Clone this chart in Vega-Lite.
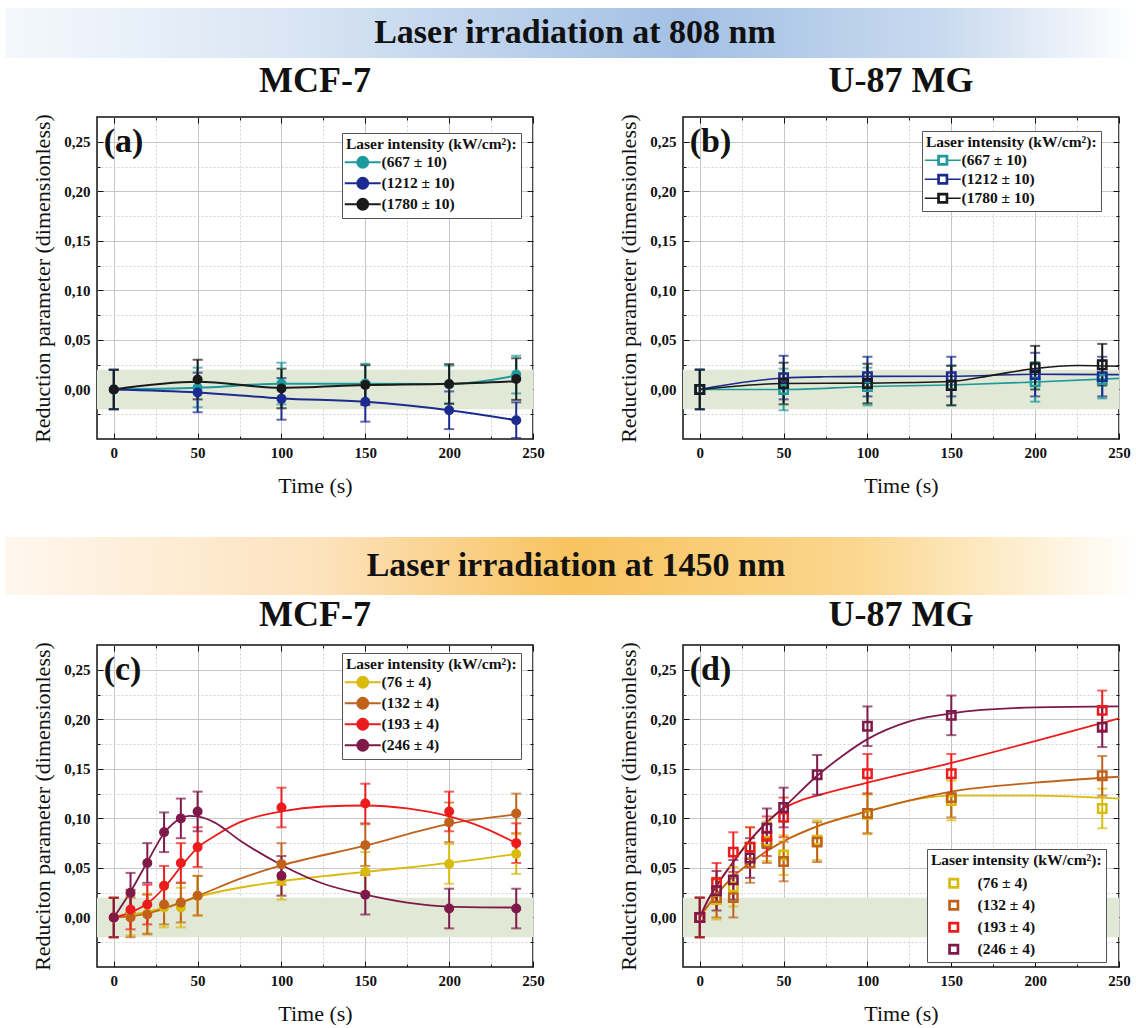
{
"$schema":"https://vega.github.io/schema/vega-lite/v6.json",
"background":"white",
"padding":{"left":5,"top":8,"right":0,"bottom":0},
"config":{
 "font":"Liberation Serif",
 "view":{"stroke":"#111","strokeWidth":1.5},
 "axis":{"labelFont":"Liberation Serif","labelFontSize":15,"labelFontWeight":"bold","labelColor":"#111","titleFont":"Liberation Serif","titleFontSize":22,"titleFontWeight":"normal","titleColor":"#111","tickColor":"#111","tickWidth":1},
 "title":{"font":"Liberation Serif","fontSize":36,"fontWeight":"bold","color":"#111","frame":"group"},
 "legend":{"titleFont":"Liberation Serif","titleFontSize":15.5,"titleFontWeight":"bold","titleColor":"#111","labelFont":"Liberation Serif","labelFontSize":15.5,"labelFontWeight":"bold","labelColor":"#111","strokeColor":"#555","fillColor":"#ffffff","padding":4,"rowPadding":1,"titlePadding":2,"symbolStrokeWidth":2}
},
"datasets":{
 "a_pts":[
  {"s":"(667 ± 10)","t":0,"y":0,"e":0.02},{"s":"(667 ± 10)","t":50,"y":0.002,"e":0.02},{"s":"(667 ± 10)","t":100,"y":0.006,"e":0.021},{"s":"(667 ± 10)","t":150,"y":0.006,"e":0.02},{"s":"(667 ± 10)","t":200,"y":0.005,"e":0.019},{"s":"(667 ± 10)","t":240,"y":0.015,"e":0.019},
  {"s":"(1212 ± 10)","t":0,"y":0,"e":0.02},{"s":"(1212 ± 10)","t":50,"y":-0.003,"e":0.02},{"s":"(1212 ± 10)","t":100,"y":-0.0095,"e":0.021},{"s":"(1212 ± 10)","t":150,"y":-0.0125,"e":0.02},{"s":"(1212 ± 10)","t":200,"y":-0.021,"e":0.019},{"s":"(1212 ± 10)","t":240,"y":-0.031,"e":0.018},
  {"s":"(1780 ± 10)","t":0,"y":0,"e":0.02},{"s":"(1780 ± 10)","t":50,"y":0.010,"e":0.02},{"s":"(1780 ± 10)","t":100,"y":0.001,"e":0.02},{"s":"(1780 ± 10)","t":150,"y":0.0045,"e":0.02},{"s":"(1780 ± 10)","t":200,"y":0.0055,"e":0.02},{"s":"(1780 ± 10)","t":240,"y":0.0105,"e":0.021}
 ],
 "a_fit":[
  {"s":"(667 ± 10)","t":0,"y":0},{"s":"(667 ± 10)","t":50,"y":0.0017},{"s":"(667 ± 10)","t":100,"y":0.0057},{"s":"(667 ± 10)","t":150,"y":0.0058},{"s":"(667 ± 10)","t":200,"y":0.0056},{"s":"(667 ± 10)","t":240,"y":0.014},
  {"s":"(1212 ± 10)","t":0,"y":0},{"s":"(1212 ± 10)","t":50,"y":-0.003},{"s":"(1212 ± 10)","t":100,"y":-0.009},{"s":"(1212 ± 10)","t":150,"y":-0.0125},{"s":"(1212 ± 10)","t":200,"y":-0.021},{"s":"(1212 ± 10)","t":240,"y":-0.031},
  {"s":"(1780 ± 10)","t":0,"y":0},{"s":"(1780 ± 10)","t":50,"y":0.0077},{"s":"(1780 ± 10)","t":100,"y":0.0017},{"s":"(1780 ± 10)","t":150,"y":0.0044},{"s":"(1780 ± 10)","t":200,"y":0.0057},{"s":"(1780 ± 10)","t":240,"y":0.0084}
 ],
 "b_pts":[
  {"s":"(667 ± 10)","t":0,"y":0,"e":0.02},{"s":"(667 ± 10)","t":50,"y":0.0,"e":0.021},{"s":"(667 ± 10)","t":100,"y":0.003,"e":0.019},{"s":"(667 ± 10)","t":150,"y":0.004,"e":0.02},{"s":"(667 ± 10)","t":200,"y":0.0077,"e":0.02},{"s":"(667 ± 10)","t":240,"y":0.010,"e":0.019},
  {"s":"(1212 ± 10)","t":0,"y":0,"e":0.02},{"s":"(1212 ± 10)","t":50,"y":0.012,"e":0.022},{"s":"(1212 ± 10)","t":100,"y":0.013,"e":0.02},{"s":"(1212 ± 10)","t":150,"y":0.013,"e":0.02},{"s":"(1212 ± 10)","t":200,"y":0.015,"e":0.022},{"s":"(1212 ± 10)","t":240,"y":0.013,"e":0.02},
  {"s":"(1780 ± 10)","t":0,"y":0,"e":0.02},{"s":"(1780 ± 10)","t":50,"y":0.006,"e":0.021},{"s":"(1780 ± 10)","t":100,"y":0.006,"e":0.02},{"s":"(1780 ± 10)","t":150,"y":0.004,"e":0.02},{"s":"(1780 ± 10)","t":200,"y":0.022,"e":0.022},{"s":"(1780 ± 10)","t":240,"y":0.025,"e":0.021}
 ],
 "b_fit":[
  {"s":"(667 ± 10)","t":0,"y":0},{"s":"(667 ± 10)","t":50,"y":0.0},{"s":"(667 ± 10)","t":100,"y":0.003},{"s":"(667 ± 10)","t":150,"y":0.0045},{"s":"(667 ± 10)","t":200,"y":0.0075},{"s":"(667 ± 10)","t":250,"y":0.0112},
  {"s":"(1212 ± 10)","t":0,"y":0},{"s":"(1212 ± 10)","t":25,"y":0.007},{"s":"(1212 ± 10)","t":50,"y":0.0115},{"s":"(1212 ± 10)","t":75,"y":0.0128},{"s":"(1212 ± 10)","t":100,"y":0.0132},{"s":"(1212 ± 10)","t":150,"y":0.0133},{"s":"(1212 ± 10)","t":200,"y":0.0153},{"s":"(1212 ± 10)","t":250,"y":0.015},
  {"s":"(1780 ± 10)","t":0,"y":0},{"s":"(1780 ± 10)","t":50,"y":0.006},{"s":"(1780 ± 10)","t":100,"y":0.0064},{"s":"(1780 ± 10)","t":150,"y":0.008},{"s":"(1780 ± 10)","t":175,"y":0.0145},{"s":"(1780 ± 10)","t":200,"y":0.0212},{"s":"(1780 ± 10)","t":225,"y":0.0242},{"s":"(1780 ± 10)","t":250,"y":0.0235}
 ],
 "c_pts":[
  {"s":"(76 ± 4)","t":0,"y":0,"e":0.02},{"s":"(76 ± 4)","t":10,"y":0.002,"e":0.02},{"s":"(76 ± 4)","t":20,"y":0.004,"e":0.02},{"s":"(76 ± 4)","t":30,"y":0.01,"e":0.02},{"s":"(76 ± 4)","t":40,"y":0.01,"e":0.02},{"s":"(76 ± 4)","t":50,"y":0.022,"e":0.02},{"s":"(76 ± 4)","t":100,"y":0.037,"e":0.019},{"s":"(76 ± 4)","t":150,"y":0.046,"e":0.02},{"s":"(76 ± 4)","t":200,"y":0.054,"e":0.02},{"s":"(76 ± 4)","t":240,"y":0.064,"e":0.02},
  {"s":"(132 ± 4)","t":0,"y":0,"e":0.02},{"s":"(132 ± 4)","t":10,"y":0.0,"e":0.02},{"s":"(132 ± 4)","t":20,"y":0.003,"e":0.02},{"s":"(132 ± 4)","t":30,"y":0.013,"e":0.02},{"s":"(132 ± 4)","t":40,"y":0.015,"e":0.02},{"s":"(132 ± 4)","t":50,"y":0.022,"e":0.02},{"s":"(132 ± 4)","t":100,"y":0.054,"e":0.021},{"s":"(132 ± 4)","t":150,"y":0.073,"e":0.021},{"s":"(132 ± 4)","t":200,"y":0.096,"e":0.02},{"s":"(132 ± 4)","t":240,"y":0.105,"e":0.02},
  {"s":"(193 ± 4)","t":0,"y":0,"e":0.02},{"s":"(193 ± 4)","t":10,"y":0.008,"e":0.02},{"s":"(193 ± 4)","t":20,"y":0.013,"e":0.02},{"s":"(193 ± 4)","t":30,"y":0.032,"e":0.02},{"s":"(193 ± 4)","t":40,"y":0.055,"e":0.02},{"s":"(193 ± 4)","t":50,"y":0.071,"e":0.02},{"s":"(193 ± 4)","t":100,"y":0.111,"e":0.02},{"s":"(193 ± 4)","t":150,"y":0.115,"e":0.02},{"s":"(193 ± 4)","t":200,"y":0.107,"e":0.02},{"s":"(193 ± 4)","t":240,"y":0.075,"e":0.02},
  {"s":"(246 ± 4)","t":0,"y":0,"e":0.02},{"s":"(246 ± 4)","t":10,"y":0.025,"e":0.02},{"s":"(246 ± 4)","t":20,"y":0.055,"e":0.02},{"s":"(246 ± 4)","t":30,"y":0.086,"e":0.02},{"s":"(246 ± 4)","t":40,"y":0.100,"e":0.02},{"s":"(246 ± 4)","t":50,"y":0.107,"e":0.02},{"s":"(246 ± 4)","t":100,"y":0.042,"e":0.02},{"s":"(246 ± 4)","t":150,"y":0.023,"e":0.02},{"s":"(246 ± 4)","t":200,"y":0.009,"e":0.02},{"s":"(246 ± 4)","t":240,"y":0.009,"e":0.02}
 ],
 "c_fit":[
  {"s":"(76 ± 4)","t":0,"y":0},{"s":"(76 ± 4)","t":10,"y":0.003},{"s":"(76 ± 4)","t":20,"y":0.006},{"s":"(76 ± 4)","t":30,"y":0.01},{"s":"(76 ± 4)","t":40,"y":0.015},{"s":"(76 ± 4)","t":50,"y":0.0206},{"s":"(76 ± 4)","t":100,"y":0.0365},{"s":"(76 ± 4)","t":150,"y":0.046},{"s":"(76 ± 4)","t":200,"y":0.055},{"s":"(76 ± 4)","t":240,"y":0.064},
  {"s":"(132 ± 4)","t":0,"y":0},{"s":"(132 ± 4)","t":10,"y":0.001},{"s":"(132 ± 4)","t":20,"y":0.004},{"s":"(132 ± 4)","t":30,"y":0.009},{"s":"(132 ± 4)","t":40,"y":0.015},{"s":"(132 ± 4)","t":50,"y":0.0216},{"s":"(132 ± 4)","t":75,"y":0.039},{"s":"(132 ± 4)","t":100,"y":0.0525},{"s":"(132 ± 4)","t":150,"y":0.0724},{"s":"(132 ± 4)","t":200,"y":0.0945},{"s":"(132 ± 4)","t":240,"y":0.104},
  {"s":"(193 ± 4)","t":0,"y":0},{"s":"(193 ± 4)","t":10,"y":0.005},{"s":"(193 ± 4)","t":20,"y":0.014},{"s":"(193 ± 4)","t":30,"y":0.03},{"s":"(193 ± 4)","t":40,"y":0.051},{"s":"(193 ± 4)","t":50,"y":0.0705},{"s":"(193 ± 4)","t":60,"y":0.082},{"s":"(193 ± 4)","t":75,"y":0.096},{"s":"(193 ± 4)","t":100,"y":0.107},{"s":"(193 ± 4)","t":125,"y":0.112},{"s":"(193 ± 4)","t":150,"y":0.113},{"s":"(193 ± 4)","t":175,"y":0.11},{"s":"(193 ± 4)","t":200,"y":0.102},{"s":"(193 ± 4)","t":220,"y":0.091},{"s":"(193 ± 4)","t":240,"y":0.075},
  {"s":"(246 ± 4)","t":0,"y":0},{"s":"(246 ± 4)","t":10,"y":0.026},{"s":"(246 ± 4)","t":20,"y":0.056},{"s":"(246 ± 4)","t":30,"y":0.085},{"s":"(246 ± 4)","t":40,"y":0.1},{"s":"(246 ± 4)","t":45,"y":0.1025},{"s":"(246 ± 4)","t":50,"y":0.102},{"s":"(246 ± 4)","t":60,"y":0.096},{"s":"(246 ± 4)","t":75,"y":0.078},{"s":"(246 ± 4)","t":100,"y":0.053},{"s":"(246 ± 4)","t":125,"y":0.034},{"s":"(246 ± 4)","t":150,"y":0.023},{"s":"(246 ± 4)","t":175,"y":0.015},{"s":"(246 ± 4)","t":200,"y":0.011},{"s":"(246 ± 4)","t":240,"y":0.01}
 ],
 "d_pts":[
  {"s":"(76 ± 4)","t":0,"y":0,"e":0.02},{"s":"(76 ± 4)","t":10,"y":0.018,"e":0.02},{"s":"(76 ± 4)","t":20,"y":0.031,"e":0.02},{"s":"(76 ± 4)","t":30,"y":0.071,"e":0.02},{"s":"(76 ± 4)","t":40,"y":0.077,"e":0.02},{"s":"(76 ± 4)","t":50,"y":0.063,"e":0.02},{"s":"(76 ± 4)","t":70,"y":0.078,"e":0.02},{"s":"(76 ± 4)","t":100,"y":0.104,"e":0.02},{"s":"(76 ± 4)","t":150,"y":0.118,"e":0.02},{"s":"(76 ± 4)","t":240,"y":0.110,"e":0.02},
  {"s":"(132 ± 4)","t":0,"y":0,"e":0.02},{"s":"(132 ± 4)","t":10,"y":0.02,"e":0.02},{"s":"(132 ± 4)","t":20,"y":0.02,"e":0.02},{"s":"(132 ± 4)","t":30,"y":0.055,"e":0.02},{"s":"(132 ± 4)","t":40,"y":0.075,"e":0.02},{"s":"(132 ± 4)","t":50,"y":0.0565,"e":0.02},{"s":"(132 ± 4)","t":70,"y":0.076,"e":0.02},{"s":"(132 ± 4)","t":100,"y":0.105,"e":0.02},{"s":"(132 ± 4)","t":150,"y":0.121,"e":0.02},{"s":"(132 ± 4)","t":240,"y":0.143,"e":0.02},
  {"s":"(193 ± 4)","t":0,"y":0,"e":0.02},{"s":"(193 ± 4)","t":10,"y":0.035,"e":0.02},{"s":"(193 ± 4)","t":20,"y":0.066,"e":0.02},{"s":"(193 ± 4)","t":30,"y":0.071,"e":0.02},{"s":"(193 ± 4)","t":40,"y":0.082,"e":0.02},{"s":"(193 ± 4)","t":50,"y":0.101,"e":0.02},{"s":"(193 ± 4)","t":100,"y":0.145,"e":0.02},{"s":"(193 ± 4)","t":150,"y":0.145,"e":0.02},{"s":"(193 ± 4)","t":240,"y":0.209,"e":0.02},
  {"s":"(246 ± 4)","t":0,"y":0,"e":0.02},{"s":"(246 ± 4)","t":10,"y":0.027,"e":0.02},{"s":"(246 ± 4)","t":20,"y":0.038,"e":0.02},{"s":"(246 ± 4)","t":30,"y":0.06,"e":0.02},{"s":"(246 ± 4)","t":40,"y":0.09,"e":0.02},{"s":"(246 ± 4)","t":50,"y":0.111,"e":0.02},{"s":"(246 ± 4)","t":70,"y":0.144,"e":0.02},{"s":"(246 ± 4)","t":100,"y":0.193,"e":0.02},{"s":"(246 ± 4)","t":150,"y":0.204,"e":0.02},{"s":"(246 ± 4)","t":240,"y":0.192,"e":0.02}
 ],
 "d_fit":[
  {"s":"(76 ± 4)","t":0,"y":0},{"s":"(76 ± 4)","t":5,"y":0.012},{"s":"(76 ± 4)","t":10,"y":0.023},{"s":"(76 ± 4)","t":20,"y":0.0415},{"s":"(76 ± 4)","t":30,"y":0.055},{"s":"(76 ± 4)","t":40,"y":0.067},{"s":"(76 ± 4)","t":50,"y":0.077},{"s":"(76 ± 4)","t":70,"y":0.092},{"s":"(76 ± 4)","t":100,"y":0.107},{"s":"(76 ± 4)","t":125,"y":0.118},{"s":"(76 ± 4)","t":150,"y":0.123},{"s":"(76 ± 4)","t":200,"y":0.123},{"s":"(76 ± 4)","t":250,"y":0.12},
  {"s":"(132 ± 4)","t":0,"y":0},{"s":"(132 ± 4)","t":5,"y":0.012},{"s":"(132 ± 4)","t":10,"y":0.023},{"s":"(132 ± 4)","t":20,"y":0.0415},{"s":"(132 ± 4)","t":30,"y":0.055},{"s":"(132 ± 4)","t":40,"y":0.067},{"s":"(132 ± 4)","t":50,"y":0.077},{"s":"(132 ± 4)","t":70,"y":0.092},{"s":"(132 ± 4)","t":100,"y":0.107},{"s":"(132 ± 4)","t":150,"y":0.127},{"s":"(132 ± 4)","t":200,"y":0.136},{"s":"(132 ± 4)","t":250,"y":0.142},
  {"s":"(193 ± 4)","t":0,"y":0},{"s":"(193 ± 4)","t":5,"y":0.018},{"s":"(193 ± 4)","t":10,"y":0.032},{"s":"(193 ± 4)","t":20,"y":0.056},{"s":"(193 ± 4)","t":30,"y":0.078},{"s":"(193 ± 4)","t":40,"y":0.096},{"s":"(193 ± 4)","t":50,"y":0.11},{"s":"(193 ± 4)","t":60,"y":0.118},{"s":"(193 ± 4)","t":70,"y":0.123},{"s":"(193 ± 4)","t":100,"y":0.136},{"s":"(193 ± 4)","t":150,"y":0.156},{"s":"(193 ± 4)","t":200,"y":0.178},{"s":"(193 ± 4)","t":250,"y":0.201},
  {"s":"(246 ± 4)","t":0,"y":0},{"s":"(246 ± 4)","t":5,"y":0.018},{"s":"(246 ± 4)","t":10,"y":0.032},{"s":"(246 ± 4)","t":20,"y":0.056},{"s":"(246 ± 4)","t":30,"y":0.078},{"s":"(246 ± 4)","t":40,"y":0.096},{"s":"(246 ± 4)","t":50,"y":0.111},{"s":"(246 ± 4)","t":70,"y":0.143},{"s":"(246 ± 4)","t":85,"y":0.163},{"s":"(246 ± 4)","t":100,"y":0.18},{"s":"(246 ± 4)","t":125,"y":0.198},{"s":"(246 ± 4)","t":150,"y":0.206},{"s":"(246 ± 4)","t":200,"y":0.212},{"s":"(246 ± 4)","t":250,"y":0.213}
 ]
},
"resolve":{"scale":{"color":"independent"}},
"spacing":40,
"vconcat":[
 {"spacing":3,"resolve":{"scale":{"color":"independent"}},"vconcat":[
  {"width":1039,"height":50,"view":{"stroke":null},"data":{"values":[{"label":"Laser irradiation at 808 nm","x0":-92,"x1":1039,"xm":478}]},
   "layer":[
    {"mark":{"type":"rect","color":{"gradient":"linear","x1":0,"x2":1,"y1":0,"y2":0,"stops":[{"offset":0,"color":"#f4f8fc"},{"offset":0.25,"color":"#dae6f4"},{"offset":0.6,"color":"#a3c0e4"},{"offset":0.83,"color":"#c9daef"},{"offset":1,"color":"#ffffff"}]}},
     "encoding":{"x":{"field":"x0","type":"quantitative","scale":{"domain":[0,1039],"nice":false,"zero":false},"axis":null},"x2":{"field":"x1"}}},
    {"mark":{"type":"text","font":"Liberation Serif","fontSize":34,"fontWeight":"bold","color":"#111"},
     "encoding":{"x":{"field":"xm","type":"quantitative","scale":{"domain":[0,1039],"nice":false,"zero":false},"axis":null},"text":{"field":"label"}}}
   ]},
  {"spacing":72,"resolve":{"scale":{"color":"independent"}},"hconcat":[
   {"width":436,"height":322,"title":{"text":"MCF-7","offset":14},
    "resolve":{"axis":{"x":"independent","y":"independent"}},
    "layer":[
     {"data":{"values":[{"lo":-0.02,"hi":0.02}]},"mark":{"type":"rect","color":"#e1e8d5"},
      "encoding":{"y":{"field":"lo","type":"quantitative","scale":{"domain":[-0.05,0.275],"nice":false,"zero":false},"axis":{"orient":"left","values":[0,0.05,0.1,0.15,0.2,0.25],"tickSize":-6,"labelPadding":13,"labelExpr":"replace(format(datum.value,'.2f'),'.',',')","grid":true,"gridColor":"#c6c6c6","title":"Reduction parameter (dimensionless)","titlePadding":9,"domain":false}},"y2":{"field":"hi"}}},
     {"data":{"name":"a_fit"},"mark":{"type":"line","interpolate":"monotone","strokeWidth":2},
      "encoding":{"x":{"field":"t","type":"quantitative","scale":{"domain":[-10,250],"nice":false,"zero":false},"axis":{"orient":"bottom","values":[0,50,100,150,200,250],"tickSize":-6,"labelPadding":12,"labelFlush":false,"grid":true,"gridColor":"#c6c6c6","title":"Time (s)","titlePadding":15,"domain":false}},
       "y":{"field":"y","type":"quantitative","scale":{"domain":[-0.05,0.275],"nice":false,"zero":false},"axis":{"orient":"left","values":[-0.025,0.025,0.075,0.125,0.175,0.225],"tickSize":-3,"labels":false,"grid":true,"gridDash":[2,2],"gridColor":"#d4d4d4","title":null,"domain":false}},
       "color":{"field":"s","type":"nominal","scale":{"domain":["(667 ± 10)","(1212 ± 10)","(1780 ± 10)"],"range":["#1d9a9b","#1b2b8f","#1a1a1a"]},
        "legend":{"orient":"none","legendX":245,"legendY":16,"title":"Laser intensity (kW/cm²):","symbolType":"M-3,0H3M-0.9,0A0.9,0.9,0,1,1,0.9,0A0.9,0.9,0,1,1,-0.9,0M-0.6,0A0.6,0.6,0,1,1,0.6,0A0.6,0.6,0,1,1,-0.6,0M-0.3,0A0.3,0.3,0,1,1,0.3,0A0.3,0.3,0,1,1,-0.3,0","symbolSize":144,"symbolOffset":9,"labelOffset":11}}}},
     {"data":{"name":"a_pts"},"mark":{"type":"errorbar","ticks":{"size":10,"thickness":2},"thickness":2},
      "encoding":{"x":{"field":"t","type":"quantitative","scale":{"domain":[-10,250],"nice":false,"zero":false},"axis":{"orient":"bottom","values":[25,75,125,175,225],"tickSize":-3,"labels":false,"grid":true,"gridDash":[2,2],"gridColor":"#d4d4d4","title":null,"domain":false}},
       "y":{"field":"y","type":"quantitative","scale":{"domain":[-0.05,0.275],"nice":false,"zero":false},"axis":{"orient":"right","values":[0,0.05,0.1,0.15,0.2,0.25],"tickSize":-6,"labels":false,"grid":false,"title":null,"domain":false}},
       "yError":{"field":"e"},
       "color":{"field":"s","type":"nominal","legend":null}}},
     {"data":{"name":"a_pts"},"mark":{"type":"point","shape":"circle","filled":true,"size":100,"opacity":1},
      "encoding":{"x":{"field":"t","type":"quantitative","scale":{"domain":[-10,250],"nice":false,"zero":false},"axis":{"orient":"top","values":[0,50,100,150,200,250],"tickSize":-6,"labels":false,"grid":false,"title":null,"domain":false}},
       "y":{"field":"y","type":"quantitative","scale":{"domain":[-0.05,0.275],"nice":false,"zero":false},"axis":{"orient":"right","values":[-0.025,0.025,0.075,0.125,0.175,0.225],"tickSize":-3,"labels":false,"grid":false,"title":null,"domain":false}},
       "color":{"field":"s","type":"nominal","legend":null}}},
     {"data":{"values":[{"lab":"(a)","t":-6,"v":0.25}]},"mark":{"type":"text","align":"left","baseline":"middle","font":"Liberation Serif","fontSize":34,"fontWeight":"bold","color":"#111"},
      "encoding":{"x":{"field":"t","type":"quantitative","scale":{"domain":[-10,250],"nice":false,"zero":false},"axis":{"orient":"top","values":[25,75,125,175,225],"tickSize":-3,"labels":false,"grid":false,"title":null,"domain":false}},
       "y":{"field":"v","type":"quantitative","scale":{"domain":[-0.05,0.275],"nice":false,"zero":false},"axis":null},
       "text":{"field":"lab"}}}
    ]},
   {"width":436,"height":322,"title":{"text":"U-87 MG","offset":14},
    "resolve":{"axis":{"x":"independent","y":"independent"}},
    "layer":[
     {"data":{"values":[{"lo":-0.02,"hi":0.02}]},"mark":{"type":"rect","color":"#e1e8d5"},
      "encoding":{"y":{"field":"lo","type":"quantitative","scale":{"domain":[-0.05,0.275],"nice":false,"zero":false},"axis":{"orient":"left","values":[0,0.05,0.1,0.15,0.2,0.25],"tickSize":-6,"labelPadding":13,"labelExpr":"replace(format(datum.value,'.2f'),'.',',')","grid":true,"gridColor":"#c6c6c6","title":"Reduction parameter (dimensionless)","titlePadding":9,"domain":false}},"y2":{"field":"hi"}}},
     {"data":{"name":"b_fit"},"mark":{"type":"line","interpolate":"monotone","strokeWidth":1.6},
      "encoding":{"x":{"field":"t","type":"quantitative","scale":{"domain":[-10,250],"nice":false,"zero":false},"axis":{"orient":"bottom","values":[0,50,100,150,200,250],"tickSize":-6,"labelPadding":12,"labelFlush":false,"grid":true,"gridColor":"#c6c6c6","title":"Time (s)","titlePadding":15,"domain":false}},
       "y":{"field":"y","type":"quantitative","scale":{"domain":[-0.05,0.275],"nice":false,"zero":false},"axis":{"orient":"left","values":[-0.025,0.025,0.075,0.125,0.175,0.225],"tickSize":-3,"labels":false,"grid":true,"gridDash":[2,2],"gridColor":"#d4d4d4","title":null,"domain":false}},
       "color":{"field":"s","type":"nominal","scale":{"domain":["(667 ± 10)","(1212 ± 10)","(1780 ± 10)"],"range":["#1d9a9b","#1b2b8f","#1a1a1a"]},
        "legend":{"orient":"none","legendX":239,"legendY":14,"title":"Laser intensity (kW/cm²):","symbolType":"M-3,0H-0.8M0.8,0H3M-0.8,-0.8H0.8V0.8H-0.8ZM-0.6,-0.6V0.6H0.6V-0.6Z","symbolSize":144,"symbolStrokeWidth":1.5,"symbolOffset":9,"labelOffset":11}}}},
     {"data":{"name":"b_pts"},"mark":{"type":"errorbar","ticks":{"size":10,"thickness":2},"thickness":2},
      "encoding":{"x":{"field":"t","type":"quantitative","scale":{"domain":[-10,250],"nice":false,"zero":false},"axis":{"orient":"bottom","values":[25,75,125,175,225],"tickSize":-3,"labels":false,"grid":true,"gridDash":[2,2],"gridColor":"#d4d4d4","title":null,"domain":false}},
       "y":{"field":"y","type":"quantitative","scale":{"domain":[-0.05,0.275],"nice":false,"zero":false},"axis":{"orient":"right","values":[0,0.05,0.1,0.15,0.2,0.25],"tickSize":-6,"labels":false,"grid":false,"title":null,"domain":false}},
       "yError":{"field":"e"},
       "color":{"field":"s","type":"nominal","legend":null}}},
     {"data":{"name":"b_pts"},"mark":{"type":"point","shape":"square","filled":false,"size":70,"strokeWidth":2.5,"opacity":1},
      "encoding":{"x":{"field":"t","type":"quantitative","scale":{"domain":[-10,250],"nice":false,"zero":false},"axis":{"orient":"top","values":[0,50,100,150,200,250],"tickSize":-6,"labels":false,"grid":false,"title":null,"domain":false}},
       "y":{"field":"y","type":"quantitative","scale":{"domain":[-0.05,0.275],"nice":false,"zero":false},"axis":{"orient":"right","values":[-0.025,0.025,0.075,0.125,0.175,0.225],"tickSize":-3,"labels":false,"grid":false,"title":null,"domain":false}},
       "color":{"field":"s","type":"nominal","legend":null}}},
     {"data":{"values":[{"lab":"(b)","t":-6,"v":0.25}]},"mark":{"type":"text","align":"left","baseline":"middle","font":"Liberation Serif","fontSize":34,"fontWeight":"bold","color":"#111"},
      "encoding":{"x":{"field":"t","type":"quantitative","scale":{"domain":[-10,250],"nice":false,"zero":false},"axis":{"orient":"top","values":[25,75,125,175,225],"tickSize":-3,"labels":false,"grid":false,"title":null,"domain":false}},
       "y":{"field":"v","type":"quantitative","scale":{"domain":[-0.05,0.275],"nice":false,"zero":false},"axis":null},
       "text":{"field":"lab"}}}
    ]}
  ]}
 ]},
 {"spacing":0,"resolve":{"scale":{"color":"independent"}},"vconcat":[
  {"width":1039,"height":58,"view":{"stroke":null},"data":{"values":[{"label":"Laser irradiation at 1450 nm","x0":-92,"x1":1039,"xm":479}]},
   "layer":[
    {"mark":{"type":"rect","color":{"gradient":"linear","x1":0,"x2":1,"y1":0,"y2":0,"stops":[{"offset":0,"color":"#fff7ee"},{"offset":0.28,"color":"#fde2bd"},{"offset":0.5,"color":"#f8c360"},{"offset":0.75,"color":"#fbd68e"},{"offset":1,"color":"#ffffff"}]}},
     "encoding":{"x":{"field":"x0","type":"quantitative","scale":{"domain":[0,1039],"nice":false,"zero":false},"axis":null},"x2":{"field":"x1"}}},
    {"mark":{"type":"text","font":"Liberation Serif","fontSize":34,"fontWeight":"bold","color":"#111"},
     "encoding":{"x":{"field":"xm","type":"quantitative","scale":{"domain":[0,1039],"nice":false,"zero":false},"axis":null},"text":{"field":"label"}}}
   ]},
  {"spacing":72,"resolve":{"scale":{"color":"independent"}},"hconcat":[
   {"width":436,"height":322,"title":{"text":"MCF-7","offset":8},
    "resolve":{"axis":{"x":"independent","y":"independent"}},
    "layer":[
     {"data":{"values":[{"lo":-0.02,"hi":0.02}]},"mark":{"type":"rect","color":"#e1e8d5"},
      "encoding":{"y":{"field":"lo","type":"quantitative","scale":{"domain":[-0.05,0.275],"nice":false,"zero":false},"axis":{"orient":"left","values":[0,0.05,0.1,0.15,0.2,0.25],"tickSize":-6,"labelPadding":13,"labelExpr":"replace(format(datum.value,'.2f'),'.',',')","grid":true,"gridColor":"#c6c6c6","title":"Reduciton parameter (dimensionless)","titlePadding":9,"domain":false}},"y2":{"field":"hi"}}},
     {"data":{"name":"c_fit"},"mark":{"type":"line","interpolate":"monotone","strokeWidth":1.8},
      "encoding":{"x":{"field":"t","type":"quantitative","scale":{"domain":[-10,250],"nice":false,"zero":false},"axis":{"orient":"bottom","values":[0,50,100,150,200,250],"tickSize":-6,"labelPadding":12,"labelFlush":false,"grid":true,"gridColor":"#c6c6c6","title":"Time (s)","titlePadding":15,"domain":false}},
       "y":{"field":"y","type":"quantitative","scale":{"domain":[-0.05,0.275],"nice":false,"zero":false},"axis":{"orient":"left","values":[-0.025,0.025,0.075,0.125,0.175,0.225],"tickSize":-3,"labels":false,"grid":true,"gridDash":[2,2],"gridColor":"#d4d4d4","title":null,"domain":false}},
       "color":{"field":"s","type":"nominal","scale":{"domain":["(76 ± 4)","(132 ± 4)","(193 ± 4)","(246 ± 4)"],"range":["#d8bb0c","#c0621c","#ec1c1c","#7d1a4a"]},
        "legend":{"orient":"none","legendX":245,"legendY":8,"title":"Laser intensity (kW/cm²):","symbolType":"M-3,0H3M-0.9,0A0.9,0.9,0,1,1,0.9,0A0.9,0.9,0,1,1,-0.9,0M-0.6,0A0.6,0.6,0,1,1,0.6,0A0.6,0.6,0,1,1,-0.6,0M-0.3,0A0.3,0.3,0,1,1,0.3,0A0.3,0.3,0,1,1,-0.3,0","symbolSize":144,"symbolOffset":9,"labelOffset":11}}}},
     {"data":{"name":"c_pts"},"mark":{"type":"errorbar","ticks":{"size":10,"thickness":2},"thickness":2},
      "encoding":{"x":{"field":"t","type":"quantitative","scale":{"domain":[-10,250],"nice":false,"zero":false},"axis":{"orient":"bottom","values":[25,75,125,175,225],"tickSize":-3,"labels":false,"grid":true,"gridDash":[2,2],"gridColor":"#d4d4d4","title":null,"domain":false}},
       "y":{"field":"y","type":"quantitative","scale":{"domain":[-0.05,0.275],"nice":false,"zero":false},"axis":{"orient":"right","values":[0,0.05,0.1,0.15,0.2,0.25],"tickSize":-6,"labels":false,"grid":false,"title":null,"domain":false}},
       "yError":{"field":"e"},
       "color":{"field":"s","type":"nominal","legend":null}}},
     {"data":{"name":"c_pts"},"mark":{"type":"point","shape":"circle","filled":true,"size":100,"opacity":1},
      "encoding":{"x":{"field":"t","type":"quantitative","scale":{"domain":[-10,250],"nice":false,"zero":false},"axis":{"orient":"top","values":[0,50,100,150,200,250],"tickSize":-6,"labels":false,"grid":false,"title":null,"domain":false}},
       "y":{"field":"y","type":"quantitative","scale":{"domain":[-0.05,0.275],"nice":false,"zero":false},"axis":{"orient":"right","values":[-0.025,0.025,0.075,0.125,0.175,0.225],"tickSize":-3,"labels":false,"grid":false,"title":null,"domain":false}},
       "color":{"field":"s","type":"nominal","legend":null}}},
     {"data":{"values":[{"lab":"(c)","t":-6,"v":0.25}]},"mark":{"type":"text","align":"left","baseline":"middle","font":"Liberation Serif","fontSize":34,"fontWeight":"bold","color":"#111"},
      "encoding":{"x":{"field":"t","type":"quantitative","scale":{"domain":[-10,250],"nice":false,"zero":false},"axis":{"orient":"top","values":[25,75,125,175,225],"tickSize":-3,"labels":false,"grid":false,"title":null,"domain":false}},
       "y":{"field":"v","type":"quantitative","scale":{"domain":[-0.05,0.275],"nice":false,"zero":false},"axis":null},
       "text":{"field":"lab"}}}
    ]},
   {"width":436,"height":322,"title":{"text":"U-87 MG","offset":8},
    "resolve":{"axis":{"x":"independent","y":"independent"}},
    "layer":[
     {"data":{"values":[{"lo":-0.02,"hi":0.02}]},"mark":{"type":"rect","color":"#e1e8d5"},
      "encoding":{"y":{"field":"lo","type":"quantitative","scale":{"domain":[-0.05,0.275],"nice":false,"zero":false},"axis":{"orient":"left","values":[0,0.05,0.1,0.15,0.2,0.25],"tickSize":-6,"labelPadding":13,"labelExpr":"replace(format(datum.value,'.2f'),'.',',')","grid":true,"gridColor":"#c6c6c6","title":"Reduction parameter (dimensionless)","titlePadding":9,"domain":false}},"y2":{"field":"hi"}}},
     {"data":{"name":"d_fit"},"mark":{"type":"line","interpolate":"monotone","strokeWidth":1.8},
      "encoding":{"x":{"field":"t","type":"quantitative","scale":{"domain":[-10,250],"nice":false,"zero":false},"axis":{"orient":"bottom","values":[0,50,100,150,200,250],"tickSize":-6,"labelPadding":12,"labelFlush":false,"grid":true,"gridColor":"#c6c6c6","title":"Time (s)","titlePadding":15,"domain":false}},
       "y":{"field":"y","type":"quantitative","scale":{"domain":[-0.05,0.275],"nice":false,"zero":false},"axis":{"orient":"left","values":[-0.025,0.025,0.075,0.125,0.175,0.225],"tickSize":-3,"labels":false,"grid":true,"gridDash":[2,2],"gridColor":"#d4d4d4","title":null,"domain":false}},
       "color":{"field":"s","type":"nominal","scale":{"domain":["(76 ± 4)","(132 ± 4)","(193 ± 4)","(246 ± 4)"],"range":["#d8bb0c","#c0621c","#ec1c1c","#7d1a4a"]},
        "legend":{"orient":"none","legendX":244,"legendY":204,"title":"Laser intensity (kW/cm²):","symbolType":"M-0.8,-0.8H0.8V0.8H-0.8ZM-0.6,-0.6V0.6H0.6V-0.6Z","symbolSize":144,"symbolStrokeWidth":1.5,"symbolOffset":15,"labelOffset":16,"rowPadding":4,"titlePadding":7}}}},
     {"data":{"name":"d_pts"},"mark":{"type":"errorbar","ticks":{"size":10,"thickness":2},"thickness":2},
      "encoding":{"x":{"field":"t","type":"quantitative","scale":{"domain":[-10,250],"nice":false,"zero":false},"axis":{"orient":"bottom","values":[25,75,125,175,225],"tickSize":-3,"labels":false,"grid":true,"gridDash":[2,2],"gridColor":"#d4d4d4","title":null,"domain":false}},
       "y":{"field":"y","type":"quantitative","scale":{"domain":[-0.05,0.275],"nice":false,"zero":false},"axis":{"orient":"right","values":[0,0.05,0.1,0.15,0.2,0.25],"tickSize":-6,"labels":false,"grid":false,"title":null,"domain":false}},
       "yError":{"field":"e"},
       "color":{"field":"s","type":"nominal","legend":null}}},
     {"data":{"name":"d_pts"},"mark":{"type":"point","shape":"square","filled":false,"size":70,"strokeWidth":2.5,"opacity":1},
      "encoding":{"x":{"field":"t","type":"quantitative","scale":{"domain":[-10,250],"nice":false,"zero":false},"axis":{"orient":"top","values":[0,50,100,150,200,250],"tickSize":-6,"labels":false,"grid":false,"title":null,"domain":false}},
       "y":{"field":"y","type":"quantitative","scale":{"domain":[-0.05,0.275],"nice":false,"zero":false},"axis":{"orient":"right","values":[-0.025,0.025,0.075,0.125,0.175,0.225],"tickSize":-3,"labels":false,"grid":false,"title":null,"domain":false}},
       "color":{"field":"s","type":"nominal","legend":null}}},
     {"data":{"values":[{"lab":"(d)","t":-6,"v":0.25}]},"mark":{"type":"text","align":"left","baseline":"middle","font":"Liberation Serif","fontSize":34,"fontWeight":"bold","color":"#111"},
      "encoding":{"x":{"field":"t","type":"quantitative","scale":{"domain":[-10,250],"nice":false,"zero":false},"axis":{"orient":"top","values":[25,75,125,175,225],"tickSize":-3,"labels":false,"grid":false,"title":null,"domain":false}},
       "y":{"field":"v","type":"quantitative","scale":{"domain":[-0.05,0.275],"nice":false,"zero":false},"axis":null},
       "text":{"field":"lab"}}}
    ]}
  ]}
 ]}
]
}
